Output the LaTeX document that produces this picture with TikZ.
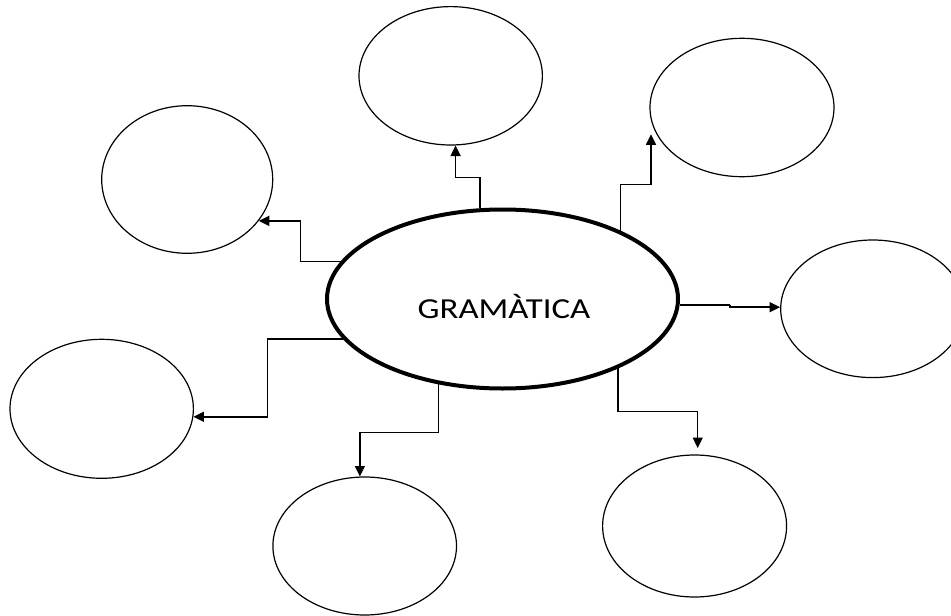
\documentclass[tikz,border=0pt]{standalone}
\usepackage{fontspec}
\setmainfont{Carlito}
\usepackage{graphicx}
\usetikzlibrary{shapes.geometric,arrows.meta}
\begin{document}
\begin{tikzpicture}[x=1pt,y=-1pt,
  bub/.style={ellipse, draw, line width=1.2pt, inner sep=0pt},
  conn/.style={draw, line width=1.4pt, -{Triangle[length=10.5pt,width=10pt]}}]
\useasboundingbox (0,0) rectangle (951,616);
% central ellipse
\node[ellipse, draw, line width=4pt, inner sep=0pt, minimum width=351pt, minimum height=179pt] (g) at (502.5,299) {};
\node[anchor=base, inner sep=0pt] (lbl) at (504,318.8) {\scalebox{1.2}[1]{\fontsize{29}{32}\selectfont GRAMÀTICA}};
% outer ellipses
\node[bub, minimum width=183.4pt, minimum height=138.4pt] (tc) at (450.7,75.8) {};
\node[bub, minimum width=184pt, minimum height=138.4pt] (tr) at (742,107.5) {};
\node[bub, minimum width=171pt, minimum height=147.6pt] (lu) at (187.2,179.5) {};
\node[bub, minimum width=184pt, minimum height=137.6pt] (r) at (872.7,308.8) {};
\node[bub, minimum width=183.4pt, minimum height=139pt] (ll) at (101.7,408.8) {};
\node[bub, minimum width=183.6pt, minimum height=138pt] (bc) at (364.7,546) {};
\node[bub, minimum width=184pt, minimum height=142pt] (br) at (694.6,526) {};
% elbow points and free ends
\coordinate (m1) at (467.5,177.7);
\coordinate (m2) at (635,184.3);
\coordinate (t2) at (651,134.3);
\coordinate (m3) at (300.5,242);
\coordinate (m4) at (730,305);
\coordinate (m5) at (267.5,378);
\coordinate (m6) at (399,432.5);
\coordinate (m7) at (658,411.7);
\coordinate (t7) at (697.7,448);
% connectors
\draw[conn] (g.104.3) |- (m1) -| (tc.274.1);
\draw[conn] (g.30.5) |- (m2) -| (t2);
\draw[conn] (g.167.6) -| (m3) |- (lu.330.1);
\draw[conn] (g.358.8) -| (m4) |- (r.179.1);
\draw[conn] (g.194.5) -| (m5) |- (ll.355.7);
\draw[conn] (g.233.2) |- (m6) -| (bc.94.3);
\draw[conn] (g.329.5) |- (m7) -| (t7);
\end{tikzpicture}
\end{document}
